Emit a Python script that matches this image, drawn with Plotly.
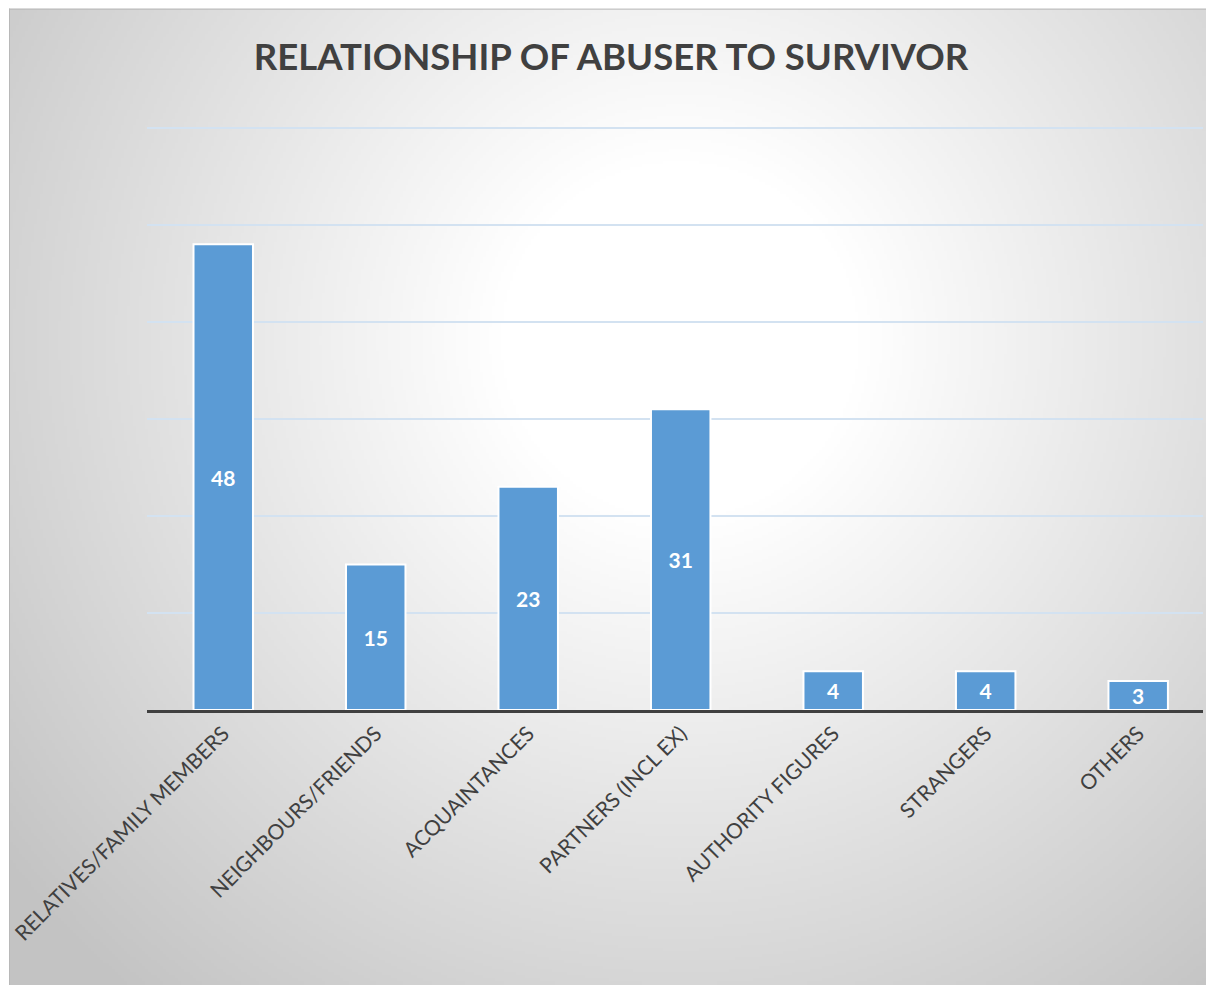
import base64
import struct
import zlib

import numpy as np
import plotly.graph_objects as go

# ---- data ----
categories = [
    "RELATIVES/FAMILY MEMBERS",
    "NEIGHBOURS/FRIENDS",
    "ACQUAINTANCES",
    "PARTNERS (INCL EX)",
    "AUTHORITY FIGURES",
    "STRANGERS",
    "OTHERS",
]
values = [48, 15, 23, 31, 4, 4, 3]
title_text = "RELATIONSHIP OF ABUSER TO SURVIVOR"

W, H = 1206, 985


# ---- radial gradient background as PNG ----
def make_png(arr):
    h, w = arr.shape
    raw = b"".join(b"\x00" + arr[i].astype(np.uint8).tobytes() for i in range(h))

    def chunk(tag, data):
        c = struct.pack(">I", len(data)) + tag + data
        return c + struct.pack(">I", zlib.crc32(tag + data) & 0xFFFFFFFF)

    png = b"\x89PNG\r\n\x1a\n"
    png += chunk(b"IHDR", struct.pack(">IIBBBBB", w, h, 8, 0, 0, 0, 0))
    png += chunk(b"IDAT", zlib.compress(raw, 9))
    png += chunk(b"IEND", b"")
    return "data:image/png;base64," + base64.b64encode(png).decode()


bw, bh = 400, 324
x0, y0 = 9, 9
xs = x0 + (np.arange(bw) + 0.5) * (W - x0) / bw
ys = y0 + (np.arange(bh) + 0.5) * (H - y0) / bh
XX, YY = np.meshgrid(xs, ys)
d = np.sqrt((XX - 680) ** 2 + (YY - 340) ** 2)
t = np.clip((d - 180) / 680, 0, 1)
grey = 255 - 60 * t
bg_src = make_png(grey)

YMAX = 61
L, R, T, B = 147, 3, 128 - (YMAX - 60) * 9.7, 275
PW, PH = W - L - R, H - T - B


def px(x):
    return (x - L) / PW


def py(y):
    return 1 - (y - T) / PH


fig = go.Figure()
fig.add_trace(
    go.Bar(
        x=categories,
        y=values,
        width=0.39,
        marker=dict(color="#5B9BD5", line=dict(color="white", width=2)),
        text=[str(v) for v in values],
        textposition="inside",
        insidetextanchor="middle",
        textangle=0,
        textfont=dict(family="Lato", size=21, color="white", weight="bold"),
        hoverinfo="skip",
    )
)

fig.update_layout(
    width=W,
    height=H,
    margin=dict(l=L, r=R, t=T, b=B),
    paper_bgcolor="white",
    plot_bgcolor="rgba(0,0,0,0)",
    showlegend=False,
    bargap=0.61,
    uniformtext=dict(minsize=21, mode="show"),
    title=dict(
        text="<b>" + title_text + "</b>",
        x=611 / W,
        xanchor="center",
        y=1 - 57 / H,
        yanchor="middle",
        font=dict(family="Lato", size=36.5, color="#404040"),
    ),
    images=[
        dict(
            source=bg_src,
            xref="paper",
            yref="paper",
            x=px(x0),
            y=py(y0),
            sizex=(W - x0) / PW,
            sizey=(H - y0) / PH,
            xanchor="left",
            yanchor="top",
            sizing="stretch",
            layer="below",
        )
    ],
    shapes=[
        dict(
            type="line", xref="paper", yref="paper",
            x0=px(x0 + 0.5), x1=px(x0 + 0.5), y0=py(y0), y1=py(H),
            line=dict(color="#b8b8b8", width=1), layer="below",
        ),
        dict(
            type="line", xref="paper", yref="paper",
            x0=px(x0), x1=px(W), y0=py(y0 + 0.5), y1=py(y0 + 0.5),
            line=dict(color="#b8b8b8", width=1), layer="below",
        ),
    ],
)

fig.update_xaxes(
    type="category",
    range=[-0.5, 6.425],
    showgrid=False,
    showline=True,
    linecolor="#404040",
    linewidth=3,
    ticks="",
    tickangle=-45,
    tickfont=dict(family="Lato", size=21, color="#404040"),
)
fig.update_yaxes(
    range=[0, YMAX],
    dtick=10,
    showgrid=True,
    gridcolor="#D3E2F1",
    gridwidth=2,
    zeroline=False,
    showticklabels=False,
    ticks="",
)

fig.write_html(
    "out.html",
    config={"displayModeBar": False},
    post_script="document.body.style.margin='0';document.documentElement.style.overflow='hidden';",
)
